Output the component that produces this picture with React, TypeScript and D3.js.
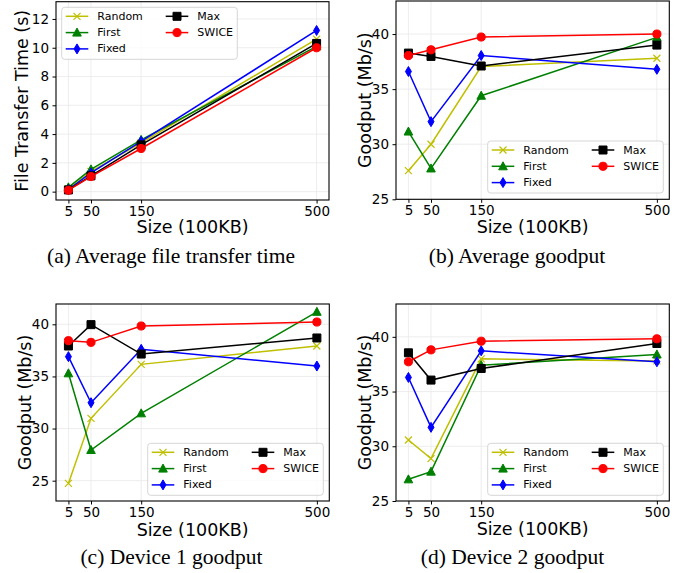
import { useEffect, useRef } from "react";
import * as d3 from "d3";

const sizes = [5, 50, 150, 500];
const seriesNames = ["Random", "First", "Fixed", "Max", "SWICE"];
const seriesColors = ["#bfbf00", "#008000", "#0000ff", "#000000", "#ff0000"];
const seriesMarkers = ["x", "tri", "diamond", "square", "circle"];

// (a) average file transfer time (s)
const timeRandom = [0.2, 1.4, 3.4, 10.6];
const timeFirst = [0.3, 1.55, 3.6, 10.1];
const timeFixed = [0.15, 1.3, 3.5, 11.2];
const timeMax = [0.12, 1.1, 3.25, 10.3];
const timeSwice = [0.1, 1.05, 3.0, 10.0];

// (b) average goodput (Mb/s)
const avgRandom = [27.6, 30.0, 37.05, 37.8];
const avgFirst = [31.15, 27.8, 34.4, 39.7];
const avgFixed = [36.6, 32.05, 38.05, 36.8];
const avgMax = [38.27, 37.97, 37.1, 39.0];
const avgSwice = [38.05, 38.57, 39.73, 40.0];

// (c) device 1 goodput (Mb/s)
const dev1Random = [24.74, 30.98, 36.16, 37.92];
const dev1First = [35.3, 27.94, 31.46, 41.2];
const dev1Fixed = [36.9, 32.48, 37.6, 36.0];
const dev1Max = [37.92, 39.97, 37.15, 38.69];
const dev1Swice = [38.43, 38.27, 39.84, 40.22];

// (d) device 2 goodput (Mb/s)
const dev2Random = [30.57, 28.87, 37.99, 37.8];
const dev2First = [26.98, 27.68, 37.41, 38.39];
const dev2Fixed = [36.29, 31.73, 38.72, 37.72];
const dev2Max = [38.54, 36.05, 37.11, 39.39];
const dev2Swice = [37.72, 38.81, 39.6, 39.82];

const timeTicks = [0, 2, 4, 6, 8, 10, 12];
const goodputTicks = [25, 30, 35, 40];

const SANS = "'DejaVu Sans', sans-serif";
const SERIF = "'Liberation Serif', 'Times New Roman', serif";

const panels = [
  {
    series: [timeRandom, timeFirst, timeFixed, timeMax, timeSwice],
    yDomain: [-0.58, 13.2], yTicks: timeTicks, yLabel: "File Transfer Time (s)",
    frame: { l: 56, r: 329, t: 1.7, b: 200 }, yLabelX: 21.5, xLabelDy: 27,
    legend: { x: 61.7, y: 7.3 }, caption: "(a) Average file transfer time", capX: 171, capY: 256,
  },
  {
    series: [avgRandom, avgFirst, avgFixed, avgMax, avgSwice],
    yDomain: [25, 43], yTicks: goodputTicks, yLabel: "Goodput (Mb/s)",
    frame: { l: 396, r: 669.3, t: 1, b: 199.3 }, yLabelX: 365, xLabelDy: 27.5,
    legend: { x: 487.7, y: 141 }, caption: "(b) Average goodput", capX: 517, capY: 256,
  },
  {
    series: [dev1Random, dev1First, dev1Fixed, dev1Max, dev1Swice],
    yDomain: [23.05, 41.95], yTicks: goodputTicks, yLabel: "Goodput (Mb/s)",
    frame: { l: 56, r: 329.3, t: 304, b: 501 }, yLabelX: 25, xLabelDy: 29,
    legend: { x: 147.7, y: 443.3 }, caption: "(c) Device 1 goodput", capX: 171.5, capY: 556.5,
  },
  {
    series: [dev2Random, dev2First, dev2Fixed, dev2Max, dev2Swice],
    yDomain: [25, 43], yTicks: goodputTicks, yLabel: "Goodput (Mb/s)",
    frame: { l: 396, r: 669.3, t: 304, b: 501 }, yLabelX: 365, xLabelDy: 28,
    legend: { x: 487.7, y: 443.3 }, caption: "(d) Device 2 goodput", capX: 512.5, capY: 556.5,
  },
];

function markerPath(kind: string) {
  switch (kind) {
    case "x":
      return "M-3.5,-3.5L3.5,3.5M-3.5,3.5L3.5,-3.5";
    case "tri":
      return "M0,-4.5L4.3,3.5L-4.3,3.5Z";
    case "diamond":
      return "M0,-5L3,0L0,5L-3,0Z";
    case "square":
      return "M-4,-4L4,-4L4,4L-4,4Z";
    default:
      return d3.symbol(d3.symbolCircle, 52)()!;
  }
}

function drawMarker(g: any, kind: string, color: string, cx: number, cy: number) {
  g.append("path")
    .attr("d", markerPath(kind))
    .attr("transform", `translate(${cx},${cy})`)
    .attr("fill", kind === "x" ? "none" : color)
    .attr("stroke", color)
    .attr("stroke-width", kind === "x" ? 1.2 : 1);
}

function drawPanel(svg: any, p: any) {
  const f = p.frame;
  const x = d3.scaleLinear().domain([-19.75, 524.75]).range([f.l, f.r]);
  const y = d3.scaleLinear().domain(p.yDomain).range([f.b, f.t]);
  const g = svg.append("g");

  // grid
  g.selectAll(".vg").data(sizes).join("line")
    .attr("x1", (d: number) => x(d)).attr("x2", (d: number) => x(d))
    .attr("y1", f.t).attr("y2", f.b)
    .attr("stroke", "#e8e8e8").attr("stroke-width", 0.8);
  g.selectAll(".hg").data(p.yTicks).join("line")
    .attr("y1", (d: number) => y(d)).attr("y2", (d: number) => y(d))
    .attr("x1", f.l).attr("x2", f.r)
    .attr("stroke", "#e8e8e8").attr("stroke-width", 0.8);

  // lines + markers
  const line = d3.line<number>().x((_, j) => x(sizes[j])).y((d) => y(d));
  p.series.forEach((vals: number[], i: number) => {
    g.append("path").datum(vals).attr("d", line)
      .attr("fill", "none").attr("stroke", seriesColors[i]).attr("stroke-width", 1.5);
    vals.forEach((v, j) => drawMarker(g, seriesMarkers[i], seriesColors[i], x(sizes[j]), y(v)));
  });

  // axes
  const xAxis = g.append("g").attr("transform", `translate(0,${f.b})`)
    .call(d3.axisBottom(x).tickValues(sizes).tickSize(3.5).tickPadding(2.5));
  const yAxis = g.append("g").attr("transform", `translate(${f.l},0)`)
    .call(d3.axisLeft(y).tickValues(p.yTicks).tickSize(3.5).tickPadding(3.5));
  [xAxis, yAxis].forEach((a) => {
    a.select(".domain").remove();
    a.attr("font-family", SANS).attr("font-size", 13.5);
    a.selectAll("text").attr("fill", "#000");
  });

  g.append("rect")
    .attr("x", f.l).attr("y", f.t).attr("width", f.r - f.l).attr("height", f.b - f.t)
    .attr("fill", "none").attr("stroke", "#000").attr("stroke-width", 1.1);

  g.append("text")
    .attr("x", (f.l + f.r) / 2).attr("y", f.b + p.xLabelDy)
    .attr("text-anchor", "middle").attr("dominant-baseline", "central")
    .attr("font-family", SANS).attr("font-size", 17.5)
    .text("Size (100KB)");
  g.append("text")
    .attr("transform", `translate(${p.yLabelX},${(f.t + f.b) / 2}) rotate(-90)`)
    .attr("text-anchor", "middle").attr("dominant-baseline", "central")
    .attr("font-family", SANS).attr("font-size", 17.5)
    .text(p.yLabel);

  // legend
  const lg = g.append("g").attr("transform", `translate(${p.legend.x},${p.legend.y})`);
  lg.append("rect").attr("width", 175.6).attr("height", 52).attr("rx", 3)
    .attr("fill", "#fff").attr("fill-opacity", 0.8)
    .attr("stroke", "#cccccc").attr("stroke-width", 0.8);
  seriesNames.forEach((name, i) => {
    const col = i < 3 ? 0 : 1;
    const row = i < 3 ? i : i - 3;
    const ox = col * 100;
    const oy = 9 + row * 16.3;
    lg.append("line").attr("x1", ox + 4).attr("x2", ox + 26.6).attr("y1", oy).attr("y2", oy)
      .attr("stroke", seriesColors[i]).attr("stroke-width", 1.5);
    drawMarker(lg, seriesMarkers[i], seriesColors[i], ox + 15.3, oy);
    lg.append("text").attr("x", ox + 35.6).attr("y", oy)
      .attr("dominant-baseline", "central")
      .attr("font-family", SANS).attr("font-size", 11)
      .text(name);
  });

  svg.append("text")
    .attr("x", p.capX).attr("y", p.capY)
    .attr("text-anchor", "middle").attr("dominant-baseline", "central")
    .attr("font-family", SERIF).attr("font-size", 21.5)
    .text(p.caption);
}

export default function App() {
  const ref = useRef<SVGSVGElement>(null);
  useEffect(() => {
    const svg = d3.select(ref.current);
    svg.selectAll("*").remove();
    panels.forEach((p) => drawPanel(svg, p));
  }, []);
  return (
    <svg
      ref={ref}
      width={691}
      height={573}
      style={{ position: "absolute", left: 0, top: 0, background: "#fff" }}
    />
  );
}
